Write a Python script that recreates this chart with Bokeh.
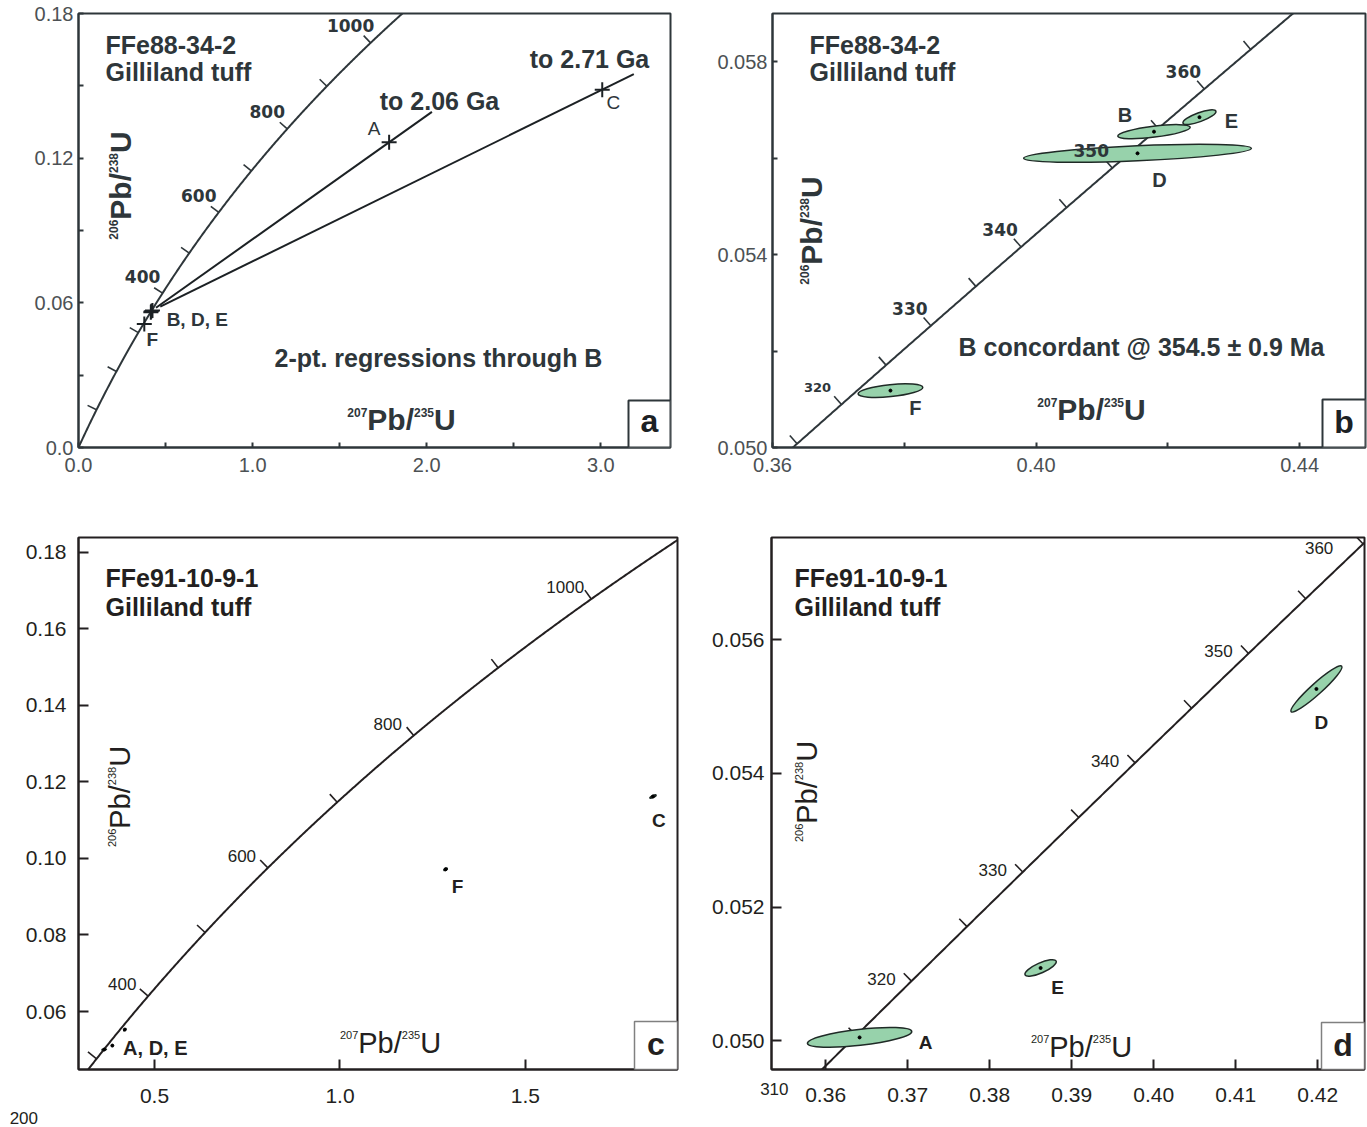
import math
import numpy as np
from bokeh.plotting import figure
from bokeh.models import Range1d, Label, FixedTicker, PrintfTickFormatter, BoxAnnotation, ColumnDataSource
from bokeh.core.properties import value
from bokeh.layouts import column, row
from bokeh.embed import file_html
from bokeh.resources import INLINE

# ------------------------------------------------------------------ data
LAMBDA_238 = 1.55125e-10   # decay constants (1/yr) defining the concordia
LAMBDA_235 = 9.8485e-10

# sample FFe88-34-2 (panels a, b)
s1_names = ["A", "B", "C", "D", "E", "F"]
s1_x = [1.784, 0.4179, 3.008, 0.4154, 0.4248, 0.3779]
s1_y = [0.1266, 0.05655, 0.1484, 0.0561, 0.05685, 0.05118]
# error ellipses of the fractions shown in panel b
s1_ell_names = ["B", "D", "E", "F"]
s1_ell_w = [0.01108, 0.0346, 0.00531, 0.00987]      # full width, x units
s1_ell_h = [0.000228, 0.000311, 0.000187, 0.000249]  # full height, y units
s1_ell_ang = [7.0, 2.5, 20.0, 5.8]                   # degrees
# two-point regressions through B
reg_through = "B"
reg_to = ["A", "C"]
reg_reach = [1.18, 1.07]      # how far past the second point each line runs
reg_start = 0.02

# sample FFe91-10-9-1 (panels c, d)
s2_names = ["A", "C", "D", "E", "F"]
s2_x = [0.36414, 1.8438, 0.41984, 0.38621, 1.2848]
s2_y = [0.05005, 0.1162, 0.055264, 0.051089, 0.09718]
s2_ell_w = [0.0128, 0.0189, 0.00829, 0.00415, 0.0108]
s2_ell_h = [0.000239, 0.00052, 0.000165, 0.00015, 0.00052]
s2_ell_ang = [6.5, 26.0, 42.0, 24.0, 30.0]

# concordia age marks (Ma)
a_tick_ages = [100, 200, 300, 400, 500, 600, 700, 800, 900, 1000, 1100]
a_label_ages = [400, 600, 800, 1000]
b_tick_ages = [310, 315, 320, 325, 330, 335, 340, 345, 350, 355, 360, 365, 370]
b_label_ages = [320, 330, 340, 350, 360]
c_tick_ages = [200, 300, 400, 500, 600, 700, 800, 900, 1000, 1100]
c_label_ages = [200, 400, 600, 800, 1000]
d_tick_ages = [305, 310, 315, 320, 325, 330, 335, 340, 345, 350, 355, 360, 365]
d_label_ages = [310, 320, 330, 340, 350, 360]

# axis ticks
a_xticks, a_xminor = [0.0, 1.0, 2.0, 3.0], [0.5, 1.5, 2.5]
a_yticks, a_yminor = [0.0, 0.06, 0.12, 0.18], [0.03, 0.09, 0.15]
b_xticks, b_xminor = [0.36, 0.40, 0.44], [0.38, 0.42]
b_yticks, b_yminor = [0.050, 0.054, 0.058], [0.052, 0.056]
c_xticks = [0.5, 1.0, 1.5]
c_yticks = [0.06, 0.08, 0.10, 0.12, 0.14, 0.16, 0.18]
d_xticks = [0.36, 0.37, 0.38, 0.39, 0.40, 0.41, 0.42]
d_yticks = [0.050, 0.052, 0.054, 0.056]

# ------------------------------------------------------------------ styles
SLATE = "#2e363a"
SLATE_TICK = "#4c5154"
BLACK = "#231f20"
ELL_FILL = "#97d2ab"
ELL_LINE = "#1f2a26"
SANS = "Liberation Sans"
WIDE = "DejaVu Sans"

AR = {"0": .556, "1": .556, "2": .556, "3": .556, "4": .556, "5": .556, "6": .556,
      "7": .556, "8": .556, "9": .556, "P": .667, "b": .556, "/": .278, "U": .722}
ARB = dict(AR, b=.611)


class Geom:
    def __init__(self, left, top, fw, fh, xr, yr):
        self.left, self.top, self.fw, self.fh = left, top, fw, fh
        self.x0, self.x1 = xr
        self.y0, self.y1 = yr
        self.kx = fw / (self.x1 - self.x0)
        self.ky = fh / (self.y1 - self.y0)

    def data(self, sx, sy):
        return self.x0 + (sx - self.left) / self.kx, self.y1 - (sy - self.top) / self.ky

    def px(self, x, y):
        return self.left + (x - self.x0) * self.kx, self.top + (self.y1 - y) * self.ky


def make_fig(g, page_left, page_top, width, height, xr, yr, col, tick_len,
             lab_size, lab_col, xstand, ystand):
    p = figure(width=width, height=height, x_range=Range1d(*xr), y_range=Range1d(*yr),
               min_border_left=g.left - page_left, min_border_top=g.top - page_top,
               min_border_right=width - (g.left - page_left) - g.fw,
               min_border_bottom=height - (g.top - page_top) - g.fh,
               output_backend="svg", toolbar_location=None, title=None)
    p.xgrid.visible = False
    p.ygrid.visible = False
    p.outline_line_color = col
    p.outline_line_width = 2
    p.outline_line_alpha = 1
    p.background_fill_color = "white"
    p.border_fill_color = "white"
    for ax in (p.xaxis, p.yaxis):
        ax.axis_line_color = col
        ax.axis_line_width = 2
        ax.major_tick_line_color = col
        ax.minor_tick_line_color = col
        ax.major_tick_line_width = 2
        ax.minor_tick_line_width = 2
        ax.major_tick_in = tick_len
        ax.major_tick_out = 0
        ax.minor_tick_in = tick_len
        ax.minor_tick_out = 0
        ax.major_label_text_font = SANS
        ax.major_label_text_font_size = f"{lab_size}px"
        ax.major_label_text_color = lab_col
    p.xaxis.major_label_standoff = xstand
    p.yaxis.major_label_standoff = ystand
    return p


def text(p, g, sx, sy, s, size, bold=False, color=SLATE, font=SANS, align="left", angle=0.0):
    """sy (or sx for rotated text) is the centre of the capitals."""
    x, y = g.data(sx, sy)
    p.add_layout(Label(x=x, y=y, text=s, text_font=font, text_font_size=f"{size}px",
                       text_font_style="bold" if bold else "normal", text_color=color,
                       text_align=align, text_baseline="middle", angle=angle))


def iso_label(p, g, cx, cy, top_iso, bot_iso, main, sup, bold, color, rotated):
    met = ARB if bold else AR
    pieces = [(top_iso, True), ("Pb/", False), (bot_iso, True), ("U", False)]
    widths = [sum(met[c] for c in t) * (sup if s else main) for t, s in pieces]
    W = sum(widths)
    cap_m, cap_s = 0.716 * main, 0.716 * sup
    lift = cap_m / 2 + 1 - cap_s / 2
    if not rotated:
        x = cx - W / 2
        for (t, s), w in zip(pieces, widths):
            text(p, g, x, cy - lift if s else cy, t, sup if s else main, bold, color)
            x += w
    else:
        y = cy + W / 2
        for (t, s), w in zip(pieces, widths):
            text(p, g, cx - lift if s else cx, y, t, sup if s else main, bold, color,
                 angle=math.pi / 2)
            y -= w


def concordia(ages_ma):
    t = np.asarray(ages_ma, dtype=float) * 1e6
    return np.exp(LAMBDA_235 * t) - 1, np.exp(LAMBDA_238 * t) - 1


def draw_concordia(p, g, t_lo, t_hi, tick_ages, length, col):
    ages = np.linspace(t_lo, t_hi, 600)
    cx, cy = concordia(ages)
    p.line(cx, cy, line_width=2, line_color=col)
    ta = np.asarray(tick_ages, dtype=float)
    x, y = concordia(ta)
    t = ta * 1e6
    vx = LAMBDA_235 * np.exp(LAMBDA_235 * t) * g.kx
    vy = LAMBDA_238 * np.exp(LAMBDA_238 * t) * g.ky
    n = np.hypot(vx, vy)
    p.segment(x, y, x + (-vy / n * length) / g.kx, y + (vx / n * length) / g.ky,
              line_width=1.6, line_color=col)


def age_labels(p, g, ages, off, special, size, bold, color, font, small=None):
    x, y = concordia(ages)
    xs, ys, ts, szs = [], [], [], []
    for a, xi, yi in zip(ages, x, y):
        sx, sy = g.px(xi, yi)
        ox, oy = special.get(a, off)
        dx, dy = g.data(sx + ox, sy + oy)
        xs.append(dx)
        ys.append(dy)
        ts.append(str(a))
        szs.append(f"{small.get(a, size) if small else size}px")
    src = ColumnDataSource(dict(x=xs, y=ys, t=ts, s=szs))
    # drawn at annotation level so that marks falling just outside the frame stay visible
    p.text(x="x", y="y", text="t", source=src, text_font=value(font), text_font_size="s",
           text_font_style="bold" if bold else "normal", text_color=color,
           text_align="center", text_baseline="middle", level="annotation")


def corner_box(p, g, w, h, line_col, lw, letter, lsize, center_y, lcol):
    x0, _ = g.data(g.left + g.fw - w, 0)
    _, y1 = g.data(0, g.top + g.fh - h)
    p.add_layout(BoxAnnotation(left=x0, right=g.x1, bottom=g.y0, top=y1,
                               fill_color="white", fill_alpha=1, line_color=line_col,
                               line_width=lw, line_alpha=1))
    text(p, g, g.left + g.fw - w / 2, center_y, letter, lsize, True, lcol, SANS, "center")


def ellipses(p, xs, ys, ws, hs, angs):
    src = ColumnDataSource(dict(x=xs, y=ys, w=ws, h=hs, a=angs))
    p.ellipse(x="x", y="y", width="w", height="h", angle="a", angle_units="deg", source=src,
              fill_color=ELL_FILL, fill_alpha=1, line_color=ELL_LINE, line_width=1.5)
    p.scatter(xs, ys, size=3, fill_color="black", line_color="black")


def idx(names, n):
    return names.index(n)


# ------------------------------------------------------------------ panel a
ga = Geom(78, 13, 592, 434, (0.0, 3.4), (0.0, 0.18))
pa = make_fig(ga, 0, 0, 680, 500, (0.0, 3.4), (0.0, 0.18), SLATE, 5, 20, SLATE_TICK, 10, 5)
pa.xaxis.ticker = FixedTicker(ticks=a_xticks, minor_ticks=a_xminor)
pa.yaxis.ticker = FixedTicker(ticks=a_yticks, minor_ticks=a_yminor)
pa.xaxis.formatter = PrintfTickFormatter(format="%.1f")
pa.yaxis.formatter = PrintfTickFormatter(format="%.2f")
pa.yaxis.major_label_overrides = {0: "0.0"}
draw_concordia(pa, ga, 0, 1150, a_tick_ages, 10, SLATE)
ib = idx(s1_names, reg_through)
for name, k in zip(reg_to, reg_reach):
    j = idx(s1_names, name)
    dx, dy = s1_x[j] - s1_x[ib], s1_y[j] - s1_y[ib]
    pa.segment(s1_x[ib] + reg_start * dx, s1_y[ib] + reg_start * dy,
               s1_x[ib] + k * dx, s1_y[ib] + k * dy, line_width=2, line_color="#1c2124")
pa.scatter(s1_x, s1_y, marker="cross", size=15, line_width=2, line_color="#1c2124")
age_labels(pa, ga, a_label_ages, (-20, -17), {}, 17, True, SLATE, WIDE)
text(pa, ga, 105, 44, "FFe88-34-2", 25, True)
text(pa, ga, 105, 71, "Gilliland tuff", 25, True)
text(pa, ga, 589, 58, "to 2.71 Ga", 25, True, align="center")
text(pa, ga, 439, 100, "to 2.06 Ga", 25, True, align="center")
text(pa, ga, 438, 357, "2-pt. regressions through B", 25, True, align="center")
a_letter_off = {"A": (-15, -14), "C": (11, 13), "B": (46, 8), "F": (8, 15)}
a_letter_txt = {"A": "A", "C": "C", "B": "B, D, E", "F": "F"}
for n, (ox, oy) in a_letter_off.items():
    j = idx(s1_names, n)
    sx, sy = ga.px(s1_x[j], s1_y[j])
    text(pa, ga, sx + ox, sy + oy, a_letter_txt[n], 19, n in ("B", "F"), SLATE, SANS, "center")
iso_label(pa, ga, 401, 419, "207", "235", 30, 12, True, SLATE, False)
iso_label(pa, ga, 120, 185, "206", "238", 30, 12, True, SLATE, True)
corner_box(pa, ga, 42, 47, SLATE, 2, "a", 32, 420, "#1c2124")

# ------------------------------------------------------------------ panel b
gb = Geom(772, 13, 593, 434, (0.36, 0.45), (0.050, 0.059))
pb = make_fig(gb, 680, 0, 687, 500, (0.36, 0.45), (0.050, 0.059), SLATE, 5, 20, SLATE_TICK, 10, 5)
pb.xaxis.ticker = FixedTicker(ticks=b_xticks, minor_ticks=b_xminor)
pb.yaxis.ticker = FixedTicker(ticks=b_yticks, minor_ticks=b_yminor)
pb.xaxis.formatter = PrintfTickFormatter(format="%.2f")
pb.yaxis.formatter = PrintfTickFormatter(format="%.3f")
draw_concordia(pb, gb, 300, 380, b_tick_ages, 11, SLATE)
sel = [idx(s1_names, n) for n in s1_ell_names]
ellipses(pb, [s1_x[j] for j in sel], [s1_y[j] for j in sel], s1_ell_w, s1_ell_h, s1_ell_ang)
age_labels(pb, gb, b_label_ages, (-21, -17.5), {320: (-24, -17)}, 17, True, SLATE, WIDE, {320: 13})
b_letter_off = {"B": (-29, -17), "E": (32, 4), "D": (22, 27), "F": (25, 17)}
for n, (ox, oy) in b_letter_off.items():
    j = idx(s1_names, n)
    sx, sy = gb.px(s1_x[j], s1_y[j])
    text(pb, gb, sx + ox, sy + oy, n, 20, True, SLATE, SANS, "center")
text(pb, gb, 809, 44, "FFe88-34-2", 25, True)
text(pb, gb, 809, 71, "Gilliland tuff", 25, True)
text(pb, gb, 1141, 346, "B concordant @ 354.5 \u00b1 0.9 Ma", 25, True, align="center")
iso_label(pb, gb, 1091, 409, "207", "235", 30, 12, True, SLATE, False)
iso_label(pb, gb, 811, 230, "206", "238", 30, 12, True, SLATE, True)
corner_box(pb, gb, 43, 48, SLATE, 2, "b", 32, 421, "#1c2124")

# ------------------------------------------------------------------ panel c
gc = Geom(78, 537, 599, 532, (0.295, 1.91), (0.04484, 0.1839))
pc = make_fig(gc, 0, 500, 680, 627, (0.295, 1.91), (0.04484, 0.1839), BLACK, 10, 21, BLACK, 19, 12)
pc.xaxis.ticker = FixedTicker(ticks=c_xticks)
pc.yaxis.ticker = FixedTicker(ticks=c_yticks)
pc.xaxis.formatter = PrintfTickFormatter(format="%.1f")
pc.yaxis.formatter = PrintfTickFormatter(format="%.2f")
draw_concordia(pc, gc, 150, 1150, c_tick_ages, 11, BLACK)
ellipses(pc, s2_x, s2_y, s2_ell_w, s2_ell_h, s2_ell_ang)
age_labels(pc, gc, c_label_ages, (-26, -12), {200: (-26, -2)}, 17, False, BLACK, SANS)
c_letter = {"C": ("C", (6, 24)), "F": ("F", (12, 17)), "E": ("A, D, E", (43, 2))}
for n, (s, (ox, oy)) in c_letter.items():
    j = idx(s2_names, n)
    sx, sy = gc.px(s2_x[j], s2_y[j])
    text(pc, gc, sx + ox, sy + oy, s, 20 if n == "E" else 19, True, BLACK, SANS, "center")
text(pc, gc, 105, 577, "FFe91-10-9-1", 25, True, BLACK)
text(pc, gc, 105, 606, "Gilliland tuff", 25, True, BLACK)
iso_label(pc, gc, 390, 1042, "207", "235", 29, 11, False, BLACK, False)
iso_label(pc, gc, 119, 796, "206", "238", 29, 11, False, BLACK, True)
corner_box(pc, gc, 43, 48, "#808080", 1.5, "c", 32, 1043, BLACK)

# ------------------------------------------------------------------ panel d
gd = Geom(771, 537, 593, 532, (0.3534, 0.4257), (0.04957, 0.05753))
pd_ = make_fig(gd, 680, 500, 687, 627, (0.3534, 0.4257), (0.04957, 0.05753), BLACK, 10, 21, BLACK, 18, 7)
pd_.xaxis.ticker = FixedTicker(ticks=d_xticks)
pd_.yaxis.ticker = FixedTicker(ticks=d_yticks)
pd_.xaxis.formatter = PrintfTickFormatter(format="%.2f")
pd_.yaxis.formatter = PrintfTickFormatter(format="%.3f")
draw_concordia(pd_, gd, 300, 370, d_tick_ages, 11, BLACK)
seld = [idx(s2_names, n) for n in ["A", "D", "E"]]
ellipses(pd_, [s2_x[j] for j in seld], [s2_y[j] for j in seld], [s2_ell_w[j] for j in seld],
         [s2_ell_h[j] for j in seld], [s2_ell_ang[j] for j in seld])
age_labels(pd_, gd, d_label_ages, (-30, -2), {360: (-44, 4), 310: (-27, -1)}, 17, False, BLACK, SANS)
d_letter_off = {"A": (66, 5), "E": (17, 20), "D": (5, 34)}
for n, (ox, oy) in d_letter_off.items():
    j = idx(s2_names, n)
    sx, sy = gd.px(s2_x[j], s2_y[j])
    text(pd_, gd, sx + ox, sy + oy, n, 19, True, BLACK, SANS, "center")
text(pd_, gd, 794, 577, "FFe91-10-9-1", 25, True, BLACK)
text(pd_, gd, 794, 606, "Gilliland tuff", 25, True, BLACK)
iso_label(pd_, gd, 1081, 1046, "207", "235", 29, 11, False, BLACK, False)
iso_label(pd_, gd, 806, 791, "206", "238", 29, 11, False, BLACK, True)
corner_box(pd_, gd, 43, 47, "#808080", 1.5, "d", 32, 1044, BLACK)

layout = column(row(pa, pb), row(pc, pd_))
open("out.html", "w").write(file_html(layout, INLINE, title="Concordia diagrams"))
